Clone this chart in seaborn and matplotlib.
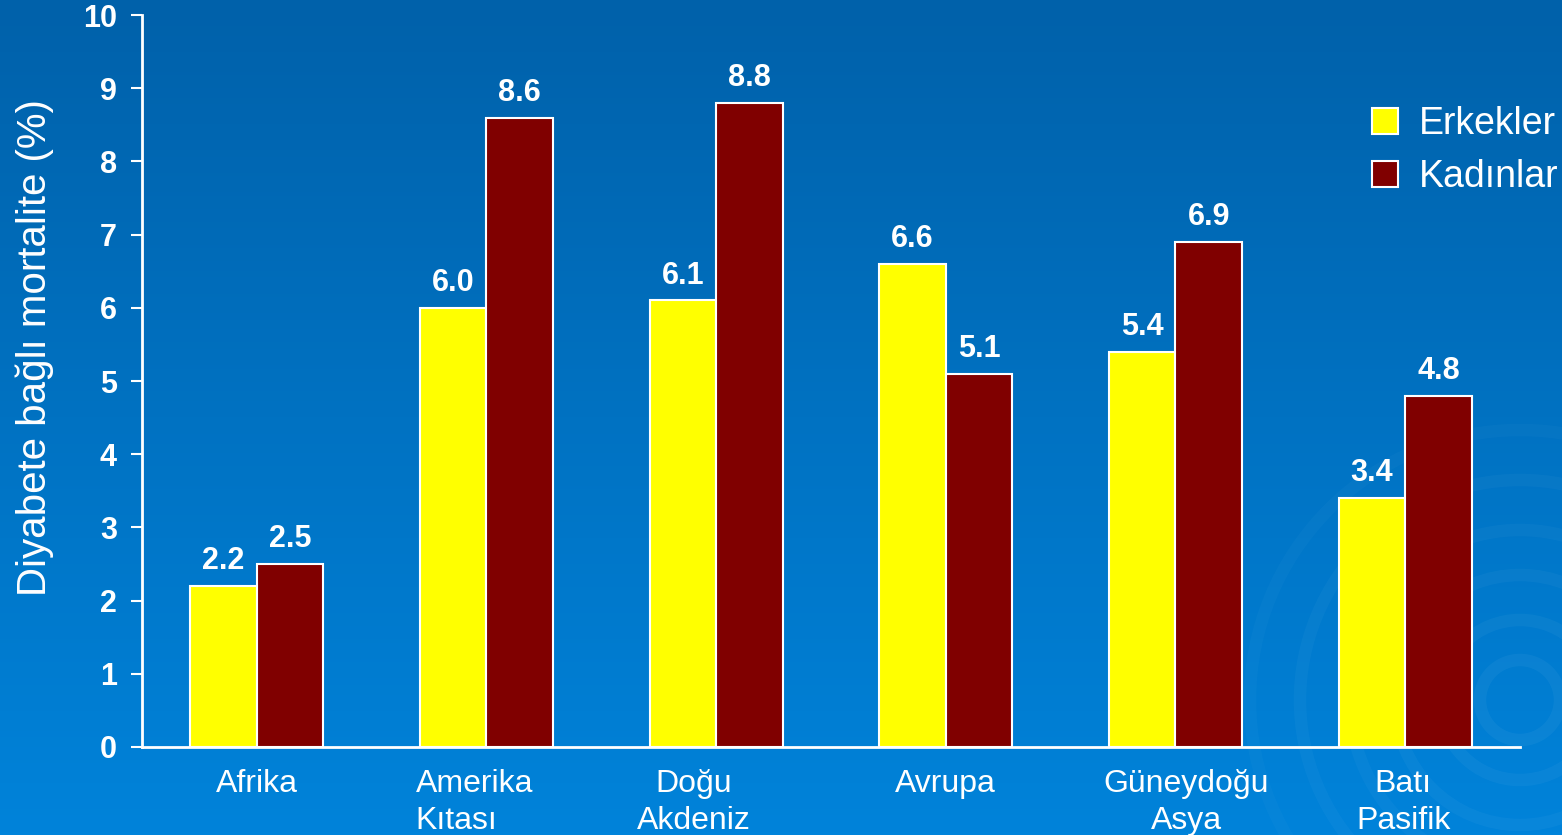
import numpy as np
import pandas as pd
import matplotlib
matplotlib.use("Agg")
import matplotlib.pyplot as plt
import matplotlib.transforms as mtransforms
import seaborn as sns
from matplotlib.patches import Patch

regions = ["Afrika", "Amerika\nKıtası", "Doğu\nAkdeniz", "Avrupa", "Güneydoğu\nAsya", "Batı\nPasifik"]
erkekler = [2.2, 6.0, 6.1, 6.6, 5.4, 3.4]
kadinlar = [2.5, 8.6, 8.8, 5.1, 6.9, 4.8]
series_names = ["Erkekler", "Kadınlar"]
y_ticks = list(range(0, 11))

df = pd.DataFrame({
    "Bölge": regions * 2,
    "Değer": erkekler + kadinlar,
    "Cinsiyet": [series_names[0]] * len(regions) + [series_names[1]] * len(regions),
})

sns.set_theme(style="white")
plt.rcParams["font.family"] = ["Liberation Sans", "DejaVu Sans"]

fig = plt.figure(figsize=(15.62, 8.35), dpi=100)

# background gradient
bg = fig.add_axes([0, 0, 1, 1], zorder=-10)
top = np.array([0x00, 0x61, 0xaa]) / 255
bot = np.array([0x00, 0x83, 0xda]) / 255
t = np.linspace(0, 1, 256)[:, None]
grad = top[None, :] * (1 - t) + bot[None, :] * t
bg.imshow(grad[:, None, :].repeat(2, axis=1), aspect="auto", extent=[0, 1562, 835, 0])
# faint decorative swirls
for r, a in [(40, 0.045), (80, 0.04), (125, 0.035), (170, 0.03), (220, 0.03), (270, 0.025)]:
    c = plt.Circle((1520, 700), r, fill=False, lw=9, color="white", alpha=a)
    bg.add_patch(c)
bg.set_xlim(0, 1562); bg.set_ylim(835, 0)
bg.axis("off")

ax = fig.add_axes([0.0909, 0.1054, 0.9731 - 0.0909, 0.982 - 0.1054])
ax.set_facecolor("none")

palette = {"Erkekler": "#ffff00", "Kadınlar": "#800000"}
sns.barplot(data=df, x="Bölge", y="Değer", hue="Cinsiyet", palette=palette,
            order=regions, hue_order=series_names, width=0.58, gap=0,
            edgecolor="white", linewidth=1.5, saturation=1, ax=ax, legend=False)

for cont in ax.containers:
    ax.bar_label(cont, fmt="%.1f", padding=7, color="white", fontsize=22, fontweight="bold")

ax.set_xlim(-0.5, len(regions) - 0.5)
ax.set_ylim(0, 10)
ax.set_yticks(y_ticks)
ax.set_yticklabels([str(v) for v in y_ticks], fontsize=22, fontweight="bold", color="white")
ax.set_xticks(range(len(regions)))
ax.set_xticklabels(regions, fontsize=23, color="white", linespacing=1.3)
ax.set_xticks(np.arange(-0.5, len(regions), 1.0), minor=True)
ax.tick_params(axis="x", which="major", length=0, pad=16)
ax.tick_params(axis="x", which="minor", length=9, width=1.5, color="white", direction="out")
ax.tick_params(axis="y", length=8, width=1.5, color="white", direction="out", left=True, pad=10)

# small per-label shifts as in the original slide
label_shift_px = [0, -12, -22, 0, 11, -2]
for lbl, dx in zip(ax.get_xticklabels(), label_shift_px):
    lbl.set_transform(lbl.get_transform() + mtransforms.ScaledTranslation(dx / 100, 0, fig.dpi_scale_trans))
ax.get_xticklabels()[1].set_multialignment("left")

ax.set_xlabel("")
ax.set_ylabel("")
fig.text(0.0224, 1 - 348 / 835, "Diyabete bağlı mortalite (%)", rotation=90,
         ha="center", va="center", fontsize=29, color="white")
for s in ["top", "right"]:
    ax.spines[s].set_visible(False)
for s in ["left", "bottom"]:
    ax.spines[s].set_color("white")
    ax.spines[s].set_linewidth(2)

handles = [Patch(facecolor=palette[n], edgecolor="white", linewidth=1.5) for n in series_names]
leg = fig.legend(handles, series_names, loc="upper left", bbox_to_anchor=(1372 / 1562, 1 - 106 / 835),
                 frameon=False, fontsize=27, labelcolor="white", borderpad=0, borderaxespad=0,
                 handlelength=0.7, handleheight=0.7, handletextpad=0.55, labelspacing=0.45)

fig.savefig("out.png", dpi=100)
